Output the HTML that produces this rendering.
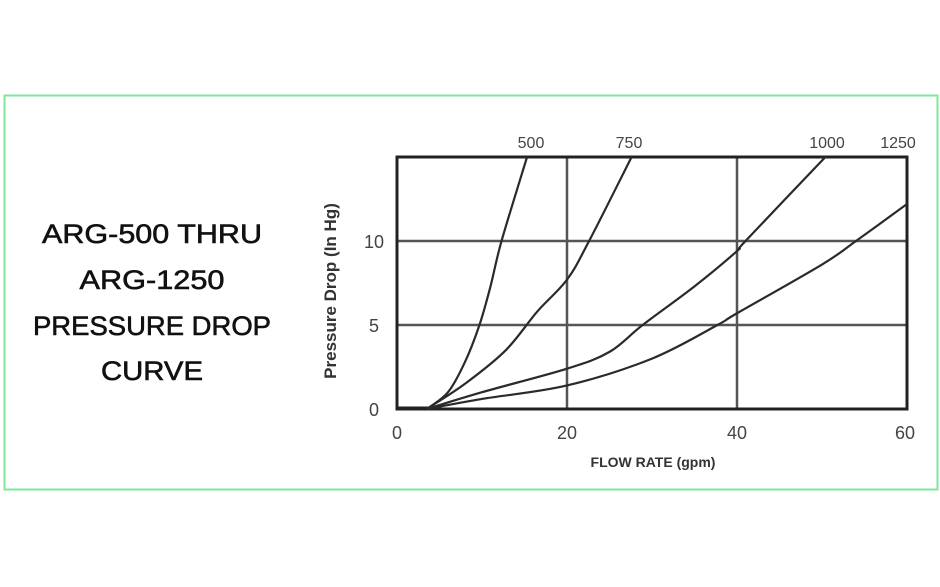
<!DOCTYPE html>
<html><head><meta charset="utf-8"><style>
html,body{margin:0;padding:0;background:#fff;width:940px;height:587px;overflow:hidden}
</style></head><body>
<svg width="940" height="587" viewBox="0 0 940 587" xmlns="http://www.w3.org/2000/svg" font-family="Liberation Sans, sans-serif">
<rect x="0" y="0" width="940" height="587" fill="#fff"/>
<rect x="4.5" y="95.5" width="933" height="394" fill="none" stroke="#7ee89a" stroke-width="2"/>
<g fill="#111" font-size="27" text-anchor="middle" stroke="#111" stroke-width="0.6">
<text x="152" y="243" textLength="220" lengthAdjust="spacingAndGlyphs">ARG-500 THRU</text>
<text x="152" y="289" textLength="145" lengthAdjust="spacingAndGlyphs">ARG-1250</text>
<text x="152" y="335" textLength="238" lengthAdjust="spacingAndGlyphs">PRESSURE DROP</text>
<text x="152" y="380" textLength="102" lengthAdjust="spacingAndGlyphs">CURVE</text>
</g>
<g stroke="#555" stroke-width="2.5" fill="none">
<line x1="567" y1="157" x2="567" y2="409"/>
<line x1="737" y1="157" x2="737" y2="409"/>
<line x1="397" y1="241" x2="907" y2="241"/>
<line x1="397" y1="325" x2="907" y2="325"/>
</g>
<rect x="397" y="157" width="510" height="252" fill="none" stroke="#222" stroke-width="3"/>
<line x1="397" y1="408" x2="430" y2="408" stroke="#222" stroke-width="3"/>
<g id="curves" stroke="#2a2a2a" stroke-width="2.2" fill="none"></g>
<g fill="#444" font-size="18" text-anchor="middle">
<text x="531" y="148" font-size="16">500</text>
<text x="629" y="148" font-size="16">750</text>
<text x="827" y="148" font-size="16">1000</text>
<text x="898" y="148" font-size="16">1250</text>
<text x="397" y="439">0</text>
<text x="567" y="439">20</text>
<text x="737" y="439">40</text>
<text x="905" y="439">60</text>
<text x="374" y="416">0</text>
<text x="374" y="332">5</text>
<text x="374" y="248">10</text>
</g>
<text x="653" y="467" font-size="14" font-weight="bold" fill="#333" text-anchor="middle">FLOW RATE (gpm)</text>
<text transform="translate(336,291) rotate(-90)" font-size="17" font-weight="bold" fill="#333" text-anchor="middle">Pressure Drop (In Hg)</text>
</svg>
<script>
var series=[
[[3.5,0],[6,1],[8,2.8],[9.7,5],[11,7.3],[12.3,10],[15.3,15]],
[[3.5,0],[8,1.5],[12.8,3.5],[16.5,5.8],[20,7.7],[22.6,10],[27.6,15]],
[[3.5,0],[10,1],[20,2.4],[25,3.4],[28.9,5],[35,7.3],[40,9.4],[41,10],[50.4,15]],
[[3.5,0],[10,0.6],[20,1.4],[30,3],[37.7,5],[40,5.7],[50,8.6],[54,10],[60,12.2]]];
var g=document.getElementById('curves');
series.forEach(function(s){
 var p=s.map(function(d){return [397+8.5*d[0],409-16.8*d[1]];});
 var d='M'+p[0][0]+','+p[0][1];
 for(var i=0;i<p.length-1;i++){
  var p0=p[i-1]||p[i],p1=p[i],p2=p[i+1],p3=p[i+2]||p2;
  var c1=[p1[0]+(p2[0]-p0[0])/6,p1[1]+(p2[1]-p0[1])/6];
  var c2=[p2[0]-(p3[0]-p1[0])/6,p2[1]-(p3[1]-p1[1])/6];
  d+=' C'+c1+' '+c2+' '+p2;
 }
 var e=document.createElementNS('http://www.w3.org/2000/svg','path');
 e.setAttribute('d',d);g.appendChild(e);
});
</script>
</body></html>
